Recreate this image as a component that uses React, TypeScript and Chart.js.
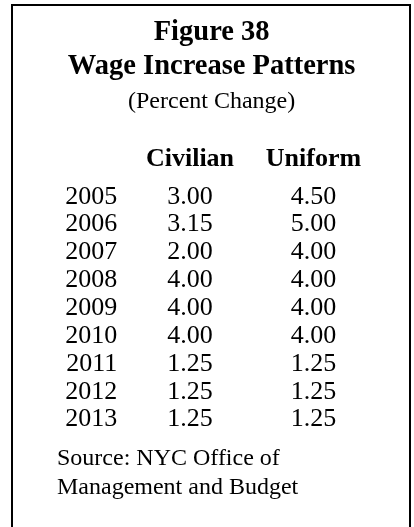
import React, { useEffect, useRef } from "react";
import { Chart, registerables } from "chart.js";

Chart.register(...registerables);

const titleLines = ["Figure 38", "Wage Increase Patterns"];
const subtitleText = "(Percent Change)";
const columns = ["Civilian", "Uniform"];
const years = ["2005", "2006", "2007", "2008", "2009", "2010", "2011", "2012", "2013"];
const civilian = [3.0, 3.15, 2.0, 4.0, 4.0, 4.0, 1.25, 1.25, 1.25];
const uniform = [4.5, 5.0, 4.0, 4.0, 4.0, 4.0, 1.25, 1.25, 1.25];
const sourceLines = ["Source: NYC Office of", "Management and Budget"];

const FAMILY = '"Liberation Serif", "Times New Roman", Times, serif';

const borderPlugin = {
  id: "boxBorder",
  beforeDraw(chart: any) {
    const ctx = chart.ctx;
    ctx.save();
    ctx.fillStyle = "#ffffff";
    ctx.fillRect(0, 0, chart.width, chart.height);
    ctx.fillStyle = "#000000";
    ctx.fillRect(11, 4, 400, 2);
    ctx.fillRect(11, 4, 2, chart.height);
    ctx.fillRect(409, 4, 2, chart.height);
    ctx.restore();
  },
};

const cellTextPlugin = {
  id: "cellText",
  afterDatasetsDraw(chart: any) {
    const ctx = chart.ctx;
    ctx.save();
    ctx.fillStyle = "#000000";
    ctx.font = `26px ${FAMILY}`;
    ctx.textAlign = "center";
    ctx.textBaseline = "middle";
    chart.data.datasets.forEach((ds: any, i: number) => {
      const meta = chart.getDatasetMeta(i);
      meta.data.forEach((pt: any, j: number) => {
        const v = ds.values[j];
        ctx.fillText(v.toFixed(2), pt.x, pt.y);
      });
    });
    ctx.restore();
  },
};

const sourcePlugin = {
  id: "sourceNote",
  afterDraw(chart: any) {
    const ctx = chart.ctx;
    const area = chart.chartArea;
    ctx.save();
    ctx.fillStyle = "#000000";
    ctx.font = `24px ${FAMILY}`;
    ctx.textAlign = "left";
    ctx.textBaseline = "alphabetic";
    sourceLines.forEach((line, i) => {
      ctx.fillText(line, 57, area.bottom + 31 + i * 29);
    });
    ctx.restore();
  },
};

export default function App() {
  const ref = useRef<HTMLCanvasElement | null>(null);

  useEffect(() => {
    if (!ref.current) return;
    const chart = new Chart(ref.current, {
      type: "line",
      data: {
        labels: columns,
        datasets: [
          {
            label: columns[0],
            values: civilian,
            data: civilian.map((_, i) => ({ x: columns[0], y: years[i] })),
            showLine: false,
            pointRadius: 0,
            pointHoverRadius: 0,
          } as any,
          {
            label: columns[1],
            values: uniform,
            data: uniform.map((_, i) => ({ x: columns[1], y: years[i] })),
            showLine: false,
            pointRadius: 0,
            pointHoverRadius: 0,
          } as any,
        ],
      },
      options: {
        responsive: false,
        animation: false,
        devicePixelRatio: 1,
        events: [],
        layout: { padding: { top: 6, left: 48, right: 38.75, bottom: 93.4 } },
        plugins: {
          legend: { display: false },
          tooltip: { enabled: false },
          title: {
            display: true,
            text: titleLines,
            color: "#000000",
            font: { family: FAMILY, size: 28.5, weight: "bold", lineHeight: 1.193 },
            padding: { top: 10, bottom: 0 },
          },
          subtitle: {
            display: true,
            text: subtitleText,
            color: "#000000",
            font: { family: FAMILY, size: 24, weight: "normal", lineHeight: 1.0 },
            padding: { top: 5.9, bottom: 21.7 },
          },
        },
        scales: {
          x: {
            type: "category",
            position: "top",
            offset: true,
            grid: { display: false, drawTicks: false },
            border: { display: false },
            ticks: {
              color: "#000000",
              padding: 8,
              font: { family: FAMILY, size: 26, weight: "bold" },
              maxRotation: 0,
              autoSkip: false,
            },
          },
          y: {
            type: "category",
            labels: years,
            offset: true,
            grid: { display: false, drawTicks: false },
            border: { display: false },
            ticks: {
              color: "#000000",
              padding: 11,
              font: { family: FAMILY, size: 26 },
              autoSkip: false,
            },
            afterFit: (scale: any) => {
              scale.width = 80.25;
            },
          },
        },
      } as any,
      plugins: [borderPlugin, cellTextPlugin, sourcePlugin],
    });
    return () => chart.destroy();
  }, []);

  return (
    <div style={{ position: "absolute", left: 0, top: 0, width: 414, height: 527, background: "#fff" }}>
      <canvas ref={ref} width={414} height={527} style={{ display: "block", width: 414, height: 527 }} />
    </div>
  );
}
